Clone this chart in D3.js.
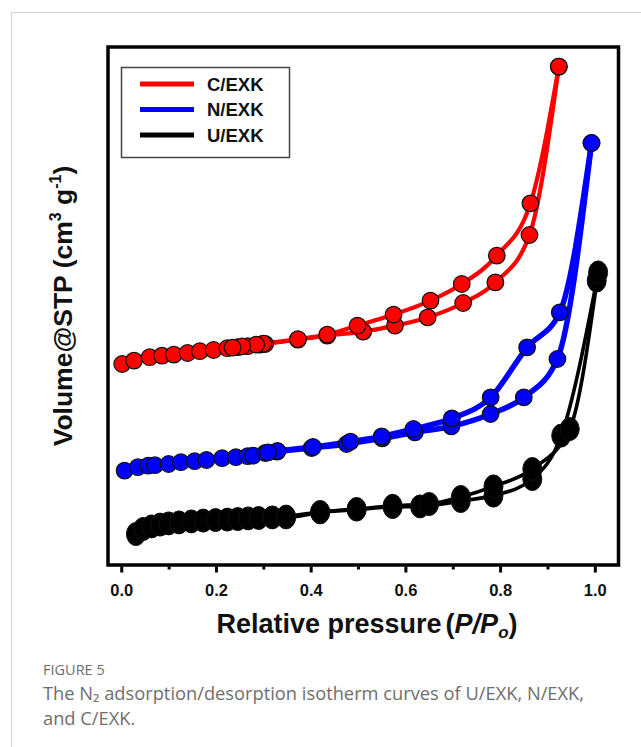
<!DOCTYPE html>
<html>
<head>
<meta charset="utf-8">
<script src="https://cdn.jsdelivr.net/npm/d3@7/dist/d3.min.js"></script>
<style>
  body { margin: 0; background: #fff; }
  svg { display: block; }
</style>
</head>
<body>
<script>
// N2 adsorption / desorption isotherms (relative pressure vs. adsorbed volume, arbitrary units)
const seriesNames = ["C/EXK", "N/EXK", "U/EXK"];
const seriesColors = ["#ff0000", "#0000ff", "#000000"];

// C/EXK
const cAdsP = [0.002,0.027,0.060,0.086,0.111,0.140,0.166,0.195,0.224,0.246,0.267,0.293,0.304,0.373,0.435,0.511,0.578,0.647,0.722,0.790,0.862,0.924];
const cAdsV = [100.5,102.2,103.9,104.7,105.2,106.0,106.9,107.5,108.4,108.9,109.4,110.2,110.5,112.7,114.7,116.7,119.7,123.8,131.0,141.3,165.0,249.2];
const cDesP = [0.924,0.864,0.793,0.719,0.653,0.575,0.499,0.435,0.373,0.300,0.285,0.255,0.235];
const cDesV = [249.2,180.8,154.7,140.5,132.2,125.2,119.7,115.2,112.9,110.7,110.2,109.3,108.7];

// N/EXK
const nAdsP = [0.007,0.035,0.057,0.071,0.100,0.126,0.155,0.180,0.213,0.242,0.267,0.278,0.304,0.329,0.402,0.476,0.551,0.620,0.697,0.780,0.850,0.921,0.993];
const nAdsV = [47.2,48.9,49.7,49.9,50.5,51.4,51.9,52.5,53.4,53.9,54.4,54.7,56.0,56.7,58.5,60.5,63.3,66.3,69.3,75.5,83.8,103.0,211.0];
const nDesP = [0.993,0.926,0.857,0.780,0.698,0.617,0.550,0.484,0.405,0.330,0.310];
const nDesV = [211.0,126.3,108.8,83.8,73.3,68.0,64.3,61.7,59.0,57.0,56.3];

// U/EXK
const uAdsP = [0.031,0.046,0.064,0.082,0.100,0.122,0.148,0.173,0.199,0.224,0.246,0.268,0.290,0.319,0.348,0.420,0.497,0.573,0.631,0.717,0.786,0.868,0.929,1.004];
const uAdsV = [15.5,18.0,19.3,20.2,20.8,21.3,21.8,22.2,22.5,22.7,23.0,23.3,23.5,23.8,23.8,26.3,27.7,29.0,29.3,32.0,34.7,43.0,64.7,142.2];
const uDesP = [1.007,0.947,0.868,0.786,0.717,0.650,0.573,0.497,0.420,0.348];
const uDesV = [146.3,68.0,48.0,39.3,34.0,30.5,29.6,28.0,26.5,24.2];

const majorTicks = [0.0, 0.2, 0.4, 0.6, 0.8, 1.0];
const minorTicks = [0.1, 0.3, 0.5, 0.7, 0.9];

const W = 641, H = 747;
const frame = { left: 108, top: 47, right: 618.5, bottom: 565 };

const x = d3.scaleLinear().domain([-0.028, 1.05]).range([frame.left, frame.right]);
const y = d3.scaleLinear().domain([0, 259]).range([frame.bottom, frame.top]);

const svg = d3.select("body").append("svg")
  .attr("width", W).attr("height", H)
  .attr("font-family", "'Liberation Sans', Arial, Helvetica, sans-serif");

svg.append("rect").attr("width", W).attr("height", H).attr("fill", "#fff");

// page rule lines
svg.append("path")
  .attr("d", `M11.5,${H} V12.5 H${W}`)
  .attr("fill", "none").attr("stroke", "#d2d2d2").attr("stroke-width", 1);

const zip = (ps, vs) => ps.map((p, i) => ({ p, v: vs[i] }));
const series = [
  { name: seriesNames[0], color: seriesColors[0], ads: zip(cAdsP, cAdsV), des: zip(cDesP, cDesV), lw: 4.2, marker: "circle" },
  { name: seriesNames[1], color: seriesColors[1], ads: zip(nAdsP, nAdsV), des: zip(nDesP, nDesV), lw: 5.5, marker: "circle" },
  { name: seriesNames[2], color: seriesColors[2], ads: zip(uAdsP, uAdsV), des: zip(uDesP, uDesV), lw: 3.6, marker: "ellipse" }
];

const line = d3.line()
  .x(d => x(d.p)).y(d => y(d.v))
  .curve(d3.curveMonotoneX);

const plot = svg.append("g");

// draw black first, then blue, then red on top
series.slice().reverse().forEach(s => {
  const g = plot.append("g");
  [s.ads, s.des].forEach(branch => {
    const sorted = branch.slice().sort((a, b) => a.p - b.p);
    g.append("path").datum(sorted)
      .attr("d", line)
      .attr("fill", "none")
      .attr("stroke", s.color)
      .attr("stroke-width", s.lw)
      .attr("stroke-linejoin", "round");
  });
  const pts = s.ads.concat(s.des);
  if (s.marker === "circle") {
    g.selectAll("circle").data(pts).join("circle")
      .attr("cx", d => x(d.p)).attr("cy", d => y(d.v))
      .attr("r", 8.3)
      .attr("fill", s.color).attr("stroke", "#111").attr("stroke-width", 1.2);
  } else {
    g.selectAll("ellipse").data(pts).join("ellipse")
      .attr("cx", d => x(d.p)).attr("cy", d => y(d.v))
      .attr("rx", 9.5).attr("ry", 11.5)
      .attr("fill", s.color).attr("stroke", "#111").attr("stroke-width", 1);
  }
});

// frame
svg.append("rect")
  .attr("x", frame.left).attr("y", frame.top)
  .attr("width", frame.right - frame.left).attr("height", frame.bottom - frame.top)
  .attr("fill", "none").attr("stroke", "#000").attr("stroke-width", 3.5);

// x axis: major ticks with labels, minor ticks without
const axMajor = svg.append("g")
  .attr("transform", `translate(0,${frame.bottom + 1.5})`)
  .call(d3.axisBottom(x).tickValues(majorTicks).tickSize(6).tickFormat(d3.format(".1f")));
axMajor.select(".domain").remove();
axMajor.selectAll(".tick line").attr("stroke", "#000").attr("stroke-width", 3);
axMajor.selectAll(".tick text")
  .attr("y", 29.5).attr("dy", 0)
  .attr("font-size", 16.5).attr("font-weight", "bold").attr("fill", "#111")
  .attr("font-family", "'Liberation Sans', Arial, sans-serif");

const axMinor = svg.append("g")
  .attr("transform", `translate(0,${frame.bottom + 1.5})`)
  .call(d3.axisBottom(x).tickValues(minorTicks).tickSize(3).tickFormat(""));
axMinor.select(".domain").remove();
axMinor.selectAll(".tick line").attr("stroke", "#000").attr("stroke-width", 3);

// axis titles
const xTitle = svg.append("text")
  .attr("x", 367).attr("y", 633)
  .attr("text-anchor", "middle")
  .attr("font-size", 27).attr("font-weight", "bold").attr("fill", "#111");
xTitle.append("tspan").text("Relative pressure");
xTitle.append("tspan").attr("dx", 4).text("(");
xTitle.append("tspan").attr("font-style", "italic").text("P/P");
xTitle.append("tspan").attr("font-style", "italic").attr("font-size", 17).attr("dy", 5).text("o");
xTitle.append("tspan").attr("dy", -5).text(")");

const yTitle = svg.append("text")
  .attr("transform", `translate(72,${(frame.top + frame.bottom) / 2}) rotate(-90)`)
  .attr("text-anchor", "middle")
  .attr("font-size", 26.5).attr("font-weight", "bold").attr("fill", "#111");
yTitle.append("tspan").text("Volume@STP (cm");
yTitle.append("tspan").attr("font-size", 16).attr("dy", -11).text("3");
yTitle.append("tspan").attr("dy", 11).text(" g");
yTitle.append("tspan").attr("font-size", 16).attr("dy", -11).text("-1");
yTitle.append("tspan").attr("dy", 11).text(")");

// legend
const legend = svg.append("g");
legend.append("rect")
  .attr("x", 121.5).attr("y", 67.5).attr("width", 168).attr("height", 90)
  .attr("fill", "#fff").attr("stroke", "#444").attr("stroke-width", 1.5);
const legendRows = [84, 109.5, 135];
series.forEach((s, i) => {
  legend.append("line")
    .attr("x1", 140).attr("x2", 194)
    .attr("y1", legendRows[i]).attr("y2", legendRows[i])
    .attr("stroke", s.color).attr("stroke-width", 5);
  legend.append("text")
    .attr("x", 207).attr("y", legendRows[i] + 6.5)
    .attr("font-size", 18.5).attr("font-weight", "bold").attr("fill", "#111")
    .text(s.name);
});

// caption
const cap = svg.append("g").attr("font-family", "'Open Sans', 'Noto Sans', sans-serif").attr("fill", "#6e6e6e");
cap.append("text").attr("x", 43).attr("y", 675).attr("font-size", 14.5).text("FIGURE 5");
cap.append("text").attr("x", 43).attr("y", 700).attr("font-size", 18.3)
  .text("The N\u2082 adsorption/desorption isotherm curves of U/EXK, N/EXK,");
cap.append("text").attr("x", 43).attr("y", 725).attr("font-size", 18.3).text("and C/EXK.");
</script>
</body>
</html>
